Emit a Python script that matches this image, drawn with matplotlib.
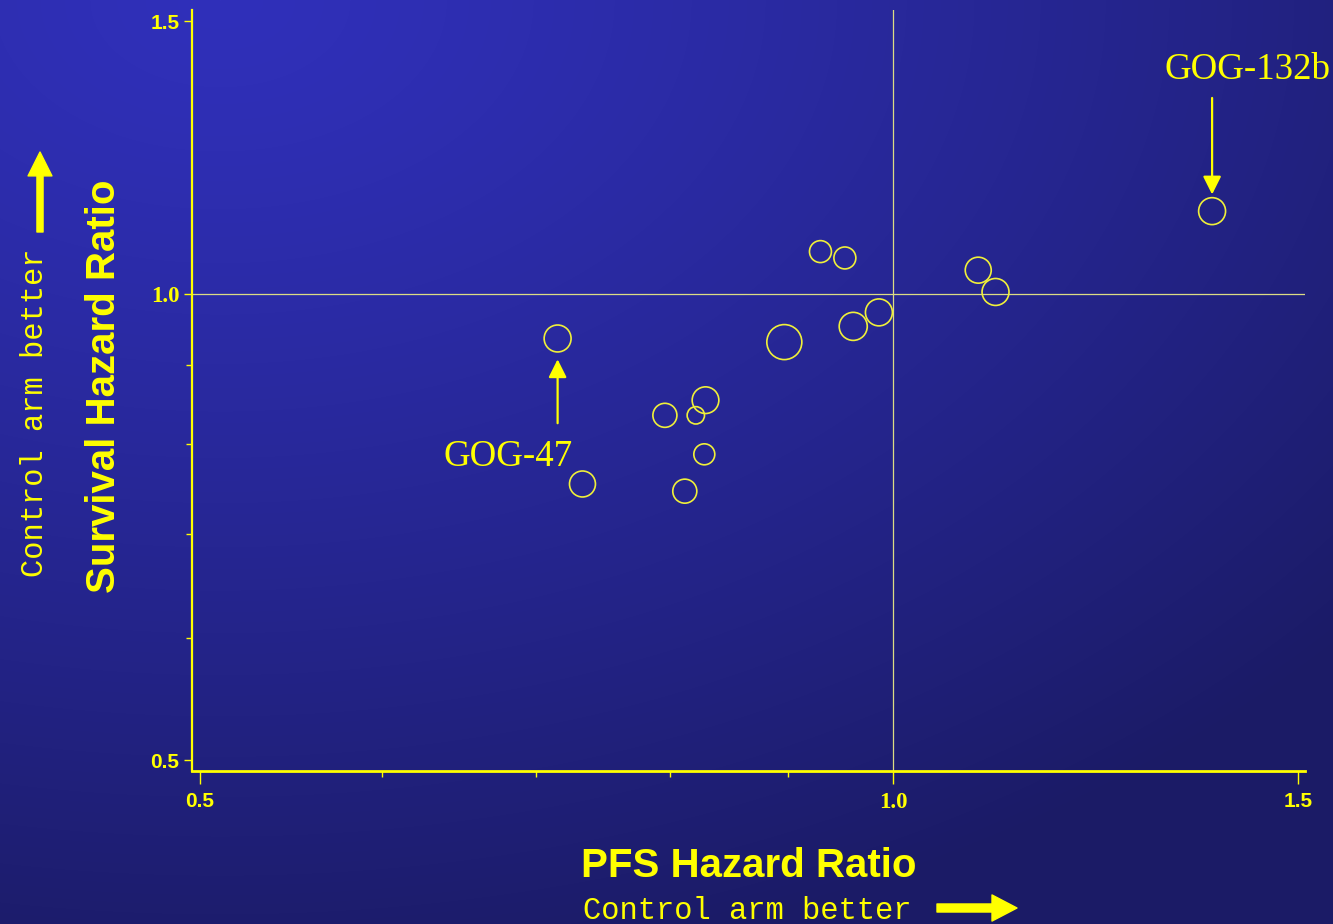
import numpy as np
import matplotlib
matplotlib.use('Agg')
import matplotlib.pyplot as plt
from matplotlib.ticker import FixedLocator, NullFormatter

# hazard ratios
pfs_hr = [0.715, 0.733, 0.796, 0.821, 0.829, 0.828, 0.812, 0.897,
          0.930, 0.953, 0.961, 0.986, 1.089, 1.108, 1.376]
os_hr = [0.936, 0.754, 0.835, 0.835, 0.854, 0.788, 0.746, 0.931,
         1.065, 1.055, 0.953, 0.973, 1.036, 1.003, 1.131]
# bubble diameter (points), bigger trial -> bigger circle
bubble = [19.4, 18.7, 17.3, 12.5, 19.2, 15.1, 17.3, 25.2,
          15.8, 15.8, 20.2, 19.4, 18.7, 19.4, 19.4]

labels = {0: 'GOG-47', 14: 'GOG-132b'}
major_ticks = [0.5, 1.0, 1.5]
minor_ticks = [0.6, 0.7, 0.8, 0.9]

YEL = '#ffff00'
W, H = 1333, 924

fig = plt.figure(figsize=(W / 100, H / 100), dpi=100)

# blue slide background, brightest near top-left
yy, xx = np.mgrid[0:H, 0:W]
d = np.sqrt(((xx - 220) / 1350.0) ** 2 + (yy / 900.0) ** 2)
t = np.clip(d / 1.1, 0, 1) ** 1.25
c0 = np.array([48, 48, 186]) / 255.0
c1 = np.array([27, 27, 102]) / 255.0
bg = c0[None, None, :] * (1 - t[..., None]) + c1[None, None, :] * t[..., None]
fig.figimage(bg, 0, 0, zorder=-10)

ax = fig.add_axes([192 / W, 1 - 771 / H, (1305 - 192) / W, (771 - 10) / H])
ax.set_facecolor('none')
ax.set_xscale('log')
ax.set_yscale('log')
ax.set_xlim(0.496, 1.51)
ax.set_ylim(0.4922, 1.525)

ax.axvline(1.0, color='#dcdc84', lw=0.9, zorder=1)
ax.axhline(1.0, color='#dcdc84', lw=0.9, zorder=1)

ax.scatter(pfs_hr, os_hr, s=np.array(bubble) ** 2, facecolors='none',
           edgecolors='#f0f03a', linewidths=1.2, zorder=3)

for sp in ['top', 'right']:
    ax.spines[sp].set_visible(False)
ax.spines['left'].set_color(YEL)
ax.spines['left'].set_linewidth(1.6)
ax.spines['bottom'].set_color(YEL)
ax.spines['bottom'].set_linewidth(2.0)

for axis in (ax.xaxis, ax.yaxis):
    axis.set_major_locator(FixedLocator(major_ticks))
    axis.set_minor_locator(FixedLocator(minor_ticks))
    axis.set_minor_formatter(NullFormatter())
ax.set_xticklabels(['%.1f' % v for v in major_ticks])
ax.set_yticklabels(['%.1f' % v for v in major_ticks])

ax.tick_params(axis='x', which='major', length=9, width=1, color=YEL, pad=6)
ax.tick_params(axis='x', which='minor', length=4, width=1, color=YEL)
ax.tick_params(axis='y', which='major', length=6, width=1, color=YEL, pad=3)
ax.tick_params(axis='y', which='minor', length=4, width=1, color=YEL)

for lab in ax.get_xticklabels() + ax.get_yticklabels():
    lab.set_color(YEL)
    if lab.get_text() == '1.0':
        lab.set_fontfamily('Liberation Serif')
        lab.set_fontweight('bold')
        lab.set_fontsize(16.5)
    else:
        lab.set_fontfamily('Liberation Sans')
        lab.set_fontweight('bold')
        lab.set_fontsize(15)

# callouts
ax.annotate('', xy=(pfs_hr[0], os_hr[0]), xytext=(0, -61), textcoords='offset points',
            arrowprops=dict(arrowstyle='-|>,head_length=1.0,head_width=0.5',
                            color=YEL, lw=1.6, shrinkA=0, shrinkB=15, mutation_scale=11))
ax.annotate(labels[0], xy=(pfs_hr[0], os_hr[0]), xytext=(11, -91.5), textcoords='offset points',
            ha='right', va='baseline', color=YEL, fontsize=26.6, family='Liberation Serif')
ax.annotate('', xy=(pfs_hr[14], os_hr[14]), xytext=(0, 81.5), textcoords='offset points',
            arrowprops=dict(arrowstyle='-|>,head_length=1.0,head_width=0.5',
                            color=YEL, lw=1.6, shrinkA=0, shrinkB=12, mutation_scale=11))
ax.annotate(labels[14], xy=(pfs_hr[14], os_hr[14]), xytext=(-34, 95), textcoords='offset points',
            ha='left', va='baseline', color=YEL, fontsize=26.6, family='Liberation Serif')

# axis titles
fig.text(749 / W, 1 - 877 / H, 'PFS Hazard Ratio', ha='center', va='baseline',
         color=YEL, fontsize=29, fontweight='bold', family='Liberation Sans')
fig.text(583 / W, 1 - 919 / H, 'Control arm better', ha='left', va='baseline',
         color=YEL, fontsize=22, family='Liberation Mono')
fig.text(115 / W, 1 - 386 / H, 'Survival Hazard Ratio', ha='center', va='baseline',
         rotation=90, rotation_mode='anchor',
         color=YEL, fontsize=29, fontweight='bold', family='Liberation Sans')
fig.text(43 / W, 1 - 577 / H, 'Control arm better', ha='left', va='baseline',
         rotation=90, rotation_mode='anchor',
         color=YEL, fontsize=22, family='Liberation Mono')

# big hint arrows
ax.annotate('', xy=(1017, H - 908), xytext=(937, H - 908), xycoords='figure pixels',
            textcoords='figure pixels',
            arrowprops=dict(arrowstyle='simple,tail_width=0.29,head_width=0.94,head_length=0.9',
                            color=YEL, mutation_scale=20, shrinkA=0, shrinkB=0), annotation_clip=False)
ax.annotate('', xy=(40, H - 152), xytext=(40, H - 232), xycoords='figure pixels',
            textcoords='figure pixels',
            arrowprops=dict(arrowstyle='simple,tail_width=0.22,head_width=0.86,head_length=0.86',
                            color=YEL, mutation_scale=20, shrinkA=0, shrinkB=0), annotation_clip=False)

fig.savefig('out.png', dpi=100)
